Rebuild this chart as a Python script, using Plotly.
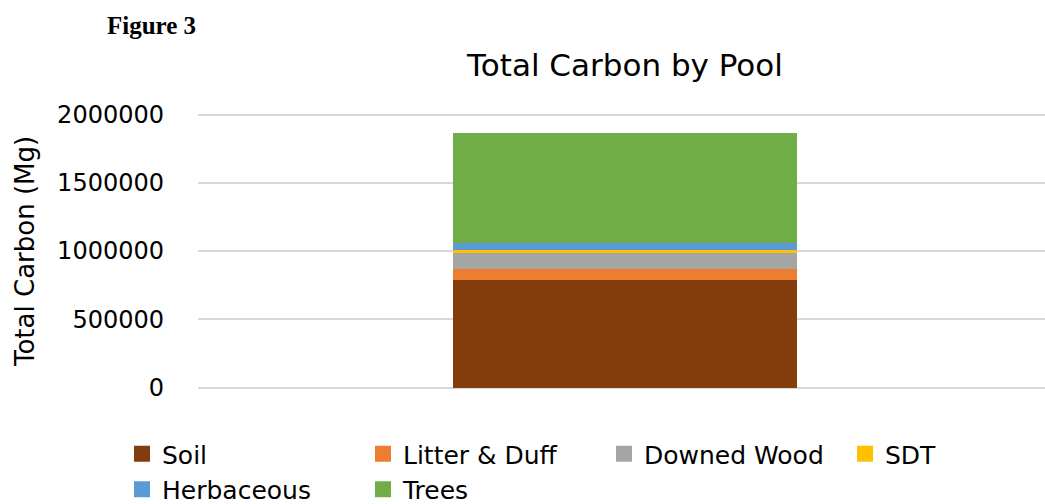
import plotly.graph_objects as go

categories = ["Total"]
pools = ["Soil", "Litter & Duff", "Downed Wood", "SDT", "Herbaceous", "Trees"]
soil = [787000]
litter_duff = [80000]
downed_wood = [117000]
sdt = [24000]
herbaceous = [49000]
trees = [808000]
series = [soil, litter_duff, downed_wood, sdt, herbaceous, trees]
colors = ["#843C0C", "#ED7D31", "#A5A5A5", "#FFC000", "#5B9BD5", "#70AD47"]
y_ticks = [0, 500000, 1000000, 1500000, 2000000]

FONT = "DejaVu Sans"
W, H = 1045, 504
L, R, T, B = 198, 0, 111, 113
PW, PH = W - L - R, H - T - B
Y_TOP, Y_BOT = 2025641, -25641

fig = go.Figure()
for name, vals, col in zip(pools, series, colors):
    fig.add_trace(go.Bar(x=categories, y=vals, name=name, marker=dict(color=col, line=dict(width=0)),
                         width=1, showlegend=False))
# legend entries with larger square swatches
for name, col in zip(pools, colors):
    fig.add_trace(go.Scatter(x=[None], y=[None], mode="markers", name=name,
                             marker=dict(symbol="square", size=19, color=col)))

fig.update_layout(
    width=W, height=H,
    margin=dict(l=L, r=R, t=T, b=B, autoexpand=False),
    barmode="stack",
    plot_bgcolor="white", paper_bgcolor="white",
    font=dict(family=FONT, color="black", size=22),
    title=dict(text="Total Carbon by Pool", x=625 / W, xref="container", xanchor="center",
               y=1 - 65 / H, yref="container", yanchor="middle",
               font=dict(family=FONT, size=31, color="black")),
    xaxis=dict(type="category", range=[-1.241, 1.221], showticklabels=False, showgrid=False,
               zeroline=False, showline=False, ticks=""),
    yaxis=dict(range=[Y_BOT, Y_TOP], tickvals=y_ticks, ticktext=[str(v) for v in y_ticks],
               showgrid=True, gridcolor="#d9d9d9", gridwidth=2, zeroline=False, showline=False,
               ticks="", ticklabelstandoff=33, tickfont=dict(family=FONT, size=24, color="black")),
    legend=dict(orientation="h", xref="paper", yref="paper", x=(122 - L) / PW,
                y=1 - (431 - T) / PH,
                xanchor="left", yanchor="top", entrywidth=196, entrywidthmode="pixels",
                traceorder="normal",
                font=dict(family=FONT, size=25, color="black"), tracegroupgap=0,
                itemclick=False),
    annotations=[
        dict(text="<b>Figure 3</b>", xref="paper", yref="paper", x=(151 - L) / PW,
             y=1 + (T - 25) / PH, xanchor="center", yanchor="middle", showarrow=False,
             font=dict(family="Liberation Serif", size=25, color="black")),
        dict(text="Total Carbon (Mg)", xref="paper", yref="paper", x=(25 - L) / PW,
             y=1 - (252 - T) / PH, xanchor="center", yanchor="middle", textangle=-90,
             showarrow=False, font=dict(family=FONT, size=26, color="black")),
    ],
)

fig.write_html("out.html", config={"displayModeBar": False},
               post_script="document.body.style.margin='0';")
